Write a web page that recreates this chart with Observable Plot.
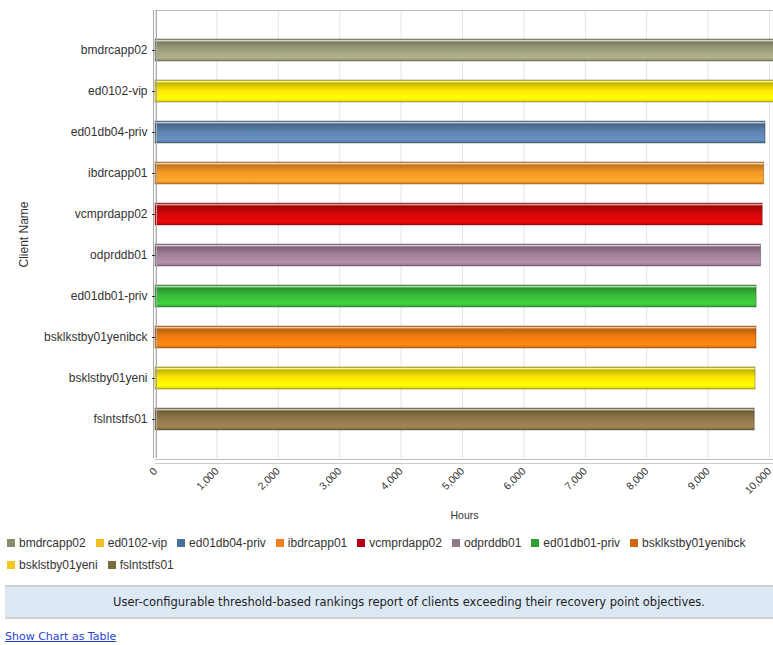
<!DOCTYPE html>
<html>
<head>
<meta charset="utf-8">
<script src="https://cdn.jsdelivr.net/npm/d3@7"></script>
<script src="https://cdn.jsdelivr.net/npm/@observablehq/plot@0.6"></script>
<style>
  html, body { margin: 0; padding: 0; background: #fff; }
  #chart svg { display: block; }
  #legend { font: 12px "Liberation Sans", Arial, sans-serif; color: #333; padding: 2px 0 0 7px; width: 760px; line-height: 22px; }
  #legend .item { display: inline-flex; align-items: center; margin-right: 10px; white-space: nowrap; }
  #legend .sw { width: 8px; height: 8px; margin-right: 4px; display: inline-block; }
  #caption { margin: 9px 0 0 5px; height: 30px; background: #dde8f5; border-top: 2px solid #d0d0d0; border-bottom: 2px solid #d0d0d0;
             font: 11.5px "DejaVu Sans", Verdana, sans-serif; color: #222; display: flex; align-items: center; justify-content: center; padding-left: 40px; }
  #link { margin: 11px 0 0 5px; font: 11px "DejaVu Sans", Verdana, sans-serif; color: #2244cc; text-decoration: underline; }
</style>
</head>
<body>
<div id="chart"></div>
<div id="legend"></div>
<div id="caption">User-configurable threshold-based rankings report of clients exceeding their recovery point objectives.</div>
<div id="link">Show Chart as Table</div>
<script>
const clients = ["bmdrcapp02", "ed0102-vip", "ed01db04-priv", "ibdrcapp01", "vcmprdapp02", "odprddb01", "ed01db01-priv", "bsklkstby01yenibck", "bsklstby01yeni", "fslntstfs01"];
const hours = [10100, 10080, 9935, 9912, 9890, 9863, 9790, 9788, 9772, 9760];
const barColors = ["#9d9d7c", "#f9e600", "#5a82ad", "#f59525", "#d00808", "#a07f98", "#38bb38", "#ee7a10", "#fbe600", "#8e7648"];
const legendColors = ["#8a8a6c", "#f0c020", "#4a70a0", "#f08020", "#b00010", "#8e7a88", "#30a030", "#d06a10", "#f8c820", "#7a6a40"];
const xTicks = [0, 1000, 2000, 3000, 4000, 5000, 6000, 7000, 8000, 9000, 10000];

const data = clients.map((c, i) => ({client: c, hours: hours[i]}));

const plot = Plot.plot({
  width: 773,
  height: 530,
  marginLeft: 155,
  marginRight: 0,
  marginTop: 10,
  marginBottom: 72,
  style: {fontFamily: "'Liberation Sans', Arial, sans-serif", fontSize: "12px", color: "#333", background: "white", overflow: "hidden"},
  x: {domain: [0, 10065]},
  y: {domain: clients, paddingInner: 0.47, paddingOuter: 0.65},
  color: {domain: clients, range: clients.map((c, i) => `url(#grad${i})`)},
  marks: [
    Plot.gridX(xTicks, {stroke: "#e4e4e4", strokeOpacity: 1}),
    Plot.frame({anchor: "top", stroke: "#bbb"}),
    Plot.barX(data, {x: "hours", y: "client", fill: "client", stroke: "rgba(0,0,0,0.3)", strokeWidth: 1}),
    Plot.ruleX([0], {stroke: "#aaa", dx: -2}),
    Plot.ruleX([0], {stroke: "#aaa", dx: 1}),
    Plot.frame({anchor: "bottom", stroke: "#bbb", dy: 1}),
    Plot.frame({anchor: "bottom", stroke: "#ccc", dy: 5}),
    Plot.axisX({ticks: xTicks, tickFormat: d3.format(","), tickRotate: -45, tickSize: 0, tickPadding: 11, fontSize: 10.5,
                label: "Hours", labelArrow: "none", labelAnchor: "center", labelOffset: 60, color: "#333"}),
    Plot.axisY({tickSize: 3, tickPadding: 5, fontSize: 12, label: "Client Name", labelAnchor: "center", labelOffset: 136, color: "#333"})
  ]
});

// glossy gradients for bars
const ns = "http://www.w3.org/2000/svg";
const defs = document.createElementNS(ns, "defs");
barColors.forEach((col, i) => {
  const g = document.createElementNS(ns, "linearGradient");
  g.setAttribute("id", `grad${i}`);
  g.setAttribute("x1", "0"); g.setAttribute("y1", "0");
  g.setAttribute("x2", "0"); g.setAttribute("y2", "1");
  const base = d3.color(col);
  const stops = [
    [0, base.darker(0.7)],
    [0.07, d3.interpolateRgb(col, "#fff")(0.6)],
    [0.14, base.darker(0.7)],
    [0.45, base],
    [0.85, base.brighter(0.35)],
    [1, base.darker(0.4)]
  ];
  stops.forEach(([o, c]) => {
    const s = document.createElementNS(ns, "stop");
    s.setAttribute("offset", o);
    s.setAttribute("stop-color", d3.color(c).formatHex());
    g.appendChild(s);
  });
  defs.appendChild(g);
});
plot.insertBefore(defs, plot.firstChild);
document.getElementById("chart").appendChild(plot);

const legend = document.getElementById("legend");
clients.forEach((c, i) => {
  const item = document.createElement("span");
  item.className = "item";
  const sw = document.createElement("span");
  sw.className = "sw";
  sw.style.background = legendColors[i];
  item.appendChild(sw);
  item.appendChild(document.createTextNode(c));
  legend.appendChild(item);
});
</script>
</body>
</html>
